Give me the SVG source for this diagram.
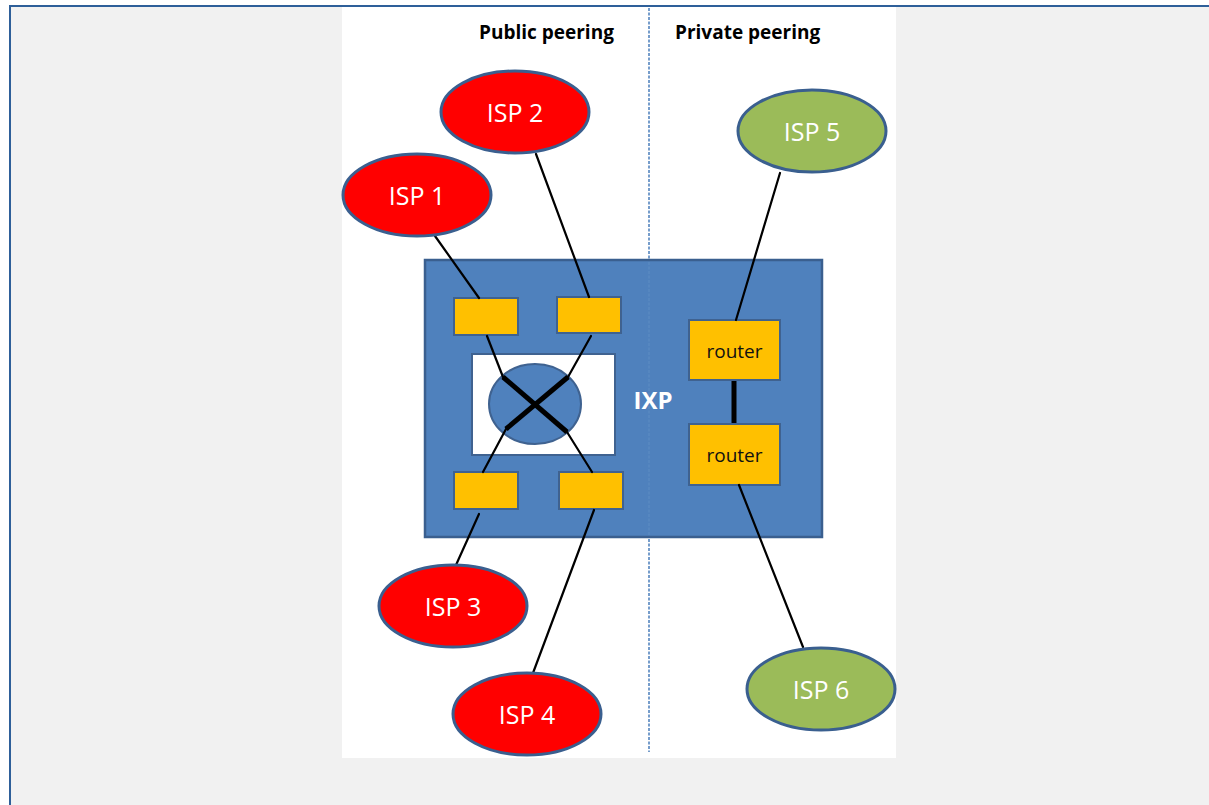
<svg xmlns="http://www.w3.org/2000/svg" width="1209" height="805" viewBox="0 0 1209 805">
  <style>
    .isp-red { fill: #ff0000; stroke: #3a5f8f; stroke-width: 3; }
    .isp-green { fill: #9bbb59; stroke: #3a5f8f; stroke-width: 3; }
    .isp-label { font-family: "Open Sans", "Noto Sans", sans-serif; font-size: 25px; fill: #ffffff; text-anchor: middle; }
    .port { fill: #ffc000; stroke: #3f6290; stroke-width: 2; }
    .router-label { font-family: "Open Sans", "Noto Sans", sans-serif; font-size: 19px; fill: #111111; text-anchor: middle; }
    .heading { font-family: "Open Sans", "Noto Sans", sans-serif; font-size: 19px; font-weight: bold; fill: #000000; }
    .link { stroke: #000000; stroke-width: 2.2; fill: none; stroke-linecap: round; }
    .link-thick { stroke: #000000; stroke-width: 5; fill: none; }
  </style>

  <!-- page backdrop -->
  <rect x="0" y="0" width="1209" height="805" fill="#ffffff"/>
  <rect x="10" y="7" width="1199" height="798" fill="#f1f1f1"/>
  <line x1="9" y1="6" x2="1209" y2="6" stroke="#2e5f99" stroke-width="2"/>
  <line x1="10" y1="5" x2="10" y2="805" stroke="#2e5f99" stroke-width="2"/>

  <!-- drawing canvas -->
  <rect x="342" y="7" width="554" height="751" fill="#ffffff"/>

  <!-- divider between public and private peering -->
  <line x1="649" y1="8" x2="649" y2="752" stroke="#4a7ebb" stroke-width="1.5" stroke-dasharray="3 1.5"/>

  <text class="heading" x="479" y="39">Public peering</text>
  <text class="heading" x="675" y="39">Private peering</text>

  <!-- exchange point -->
  <g id="ixp">
    <rect x="425" y="260" width="397" height="277" fill="#4f81bd" stroke="#3a5f8f" stroke-width="2.5"/>
    <line x1="649" y1="262" x2="649" y2="535" stroke="#6b95c8" stroke-width="1" stroke-dasharray="3 1.5" opacity="0.6"/>
    <text x="653" y="409" font-family="'Open Sans', 'Noto Sans', sans-serif" font-size="24" font-weight="bold" fill="#ffffff" text-anchor="middle">IXP</text>
  </g>

  <g id="switch-fabric">
    <rect x="472" y="354" width="143" height="101" fill="#ffffff" stroke="#3f6290" stroke-width="2"/>
    <ellipse cx="535" cy="404" rx="46" ry="40" fill="#4f81bd" stroke="#3f6290" stroke-width="2"/>
  </g>

  <g id="port-tl"><rect class="port" x="454" y="298" width="64" height="37"/></g>
  <g id="port-tr"><rect class="port" x="557" y="297" width="64" height="36"/></g>
  <g id="port-bl"><rect class="port" x="454" y="472" width="64" height="37"/></g>
  <g id="port-br"><rect class="port" x="559" y="472" width="64" height="37"/></g>

  <g id="router-1">
    <rect class="port" x="689" y="320" width="91" height="60"/>
    <text class="router-label" x="734.5" y="358">router</text>
  </g>
  <g id="router-2">
    <rect class="port" x="689" y="424" width="91" height="61"/>
    <text class="router-label" x="734.5" y="462">router</text>
  </g>

  <!-- connectors -->
  <g id="connectors">
    <line class="link" x1="435" y1="236" x2="479" y2="298"/>
    <line class="link" x1="536" y1="154" x2="589" y2="297"/>
    <line class="link" x1="479" y1="514" x2="456" y2="565"/>
    <line class="link" x1="594" y1="510" x2="533" y2="673"/>
    <line class="link" x1="780" y1="173" x2="736" y2="320"/>
    <line class="link" x1="739" y1="485" x2="803" y2="647"/>
    <line class="link-thick" x1="734" y1="381" x2="734" y2="423"/>
    <!-- crossing through the fabric -->
    <polyline class="link" points="487,336 503,377"/>
    <line class="link-thick" x1="503" y1="377" x2="567" y2="432"/>
    <polyline class="link" points="567,432 592,472"/>
    <polyline class="link" points="591,336 568,377"/>
    <line class="link-thick" x1="568" y1="377" x2="506" y2="429"/>
    <polyline class="link" points="506,429 483,472"/>
  </g>

  <!-- ISPs -->
  <g id="isp-1">
    <ellipse class="isp-red" cx="417" cy="195" rx="74" ry="41"/>
    <text class="isp-label" x="417" y="205">ISP 1</text>
  </g>
  <g id="isp-2">
    <ellipse class="isp-red" cx="515" cy="112" rx="74" ry="41"/>
    <text class="isp-label" x="515" y="122">ISP 2</text>
  </g>
  <g id="isp-3">
    <ellipse class="isp-red" cx="453" cy="606" rx="74" ry="41"/>
    <text class="isp-label" x="453" y="616">ISP 3</text>
  </g>
  <g id="isp-4">
    <ellipse class="isp-red" cx="527" cy="714" rx="74" ry="41"/>
    <text class="isp-label" x="527" y="724">ISP 4</text>
  </g>
  <g id="isp-5">
    <ellipse class="isp-green" cx="812" cy="131" rx="74" ry="41"/>
    <text class="isp-label" x="812" y="141">ISP 5</text>
  </g>
  <g id="isp-6">
    <ellipse class="isp-green" cx="821" cy="689" rx="74" ry="41"/>
    <text class="isp-label" x="821" y="699">ISP 6</text>
  </g>
</svg>
